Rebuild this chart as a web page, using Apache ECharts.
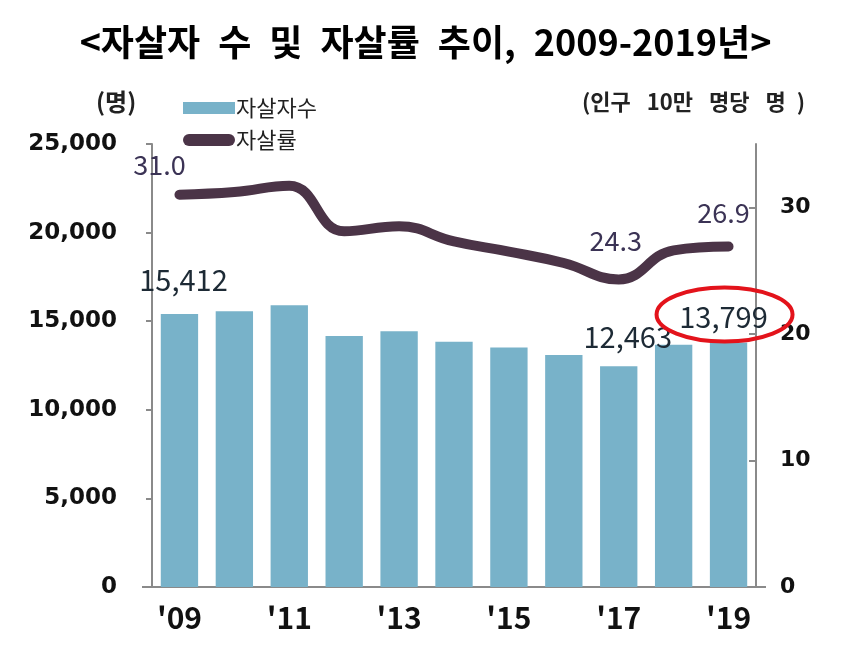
<!DOCTYPE html>
<html>
<head>
<meta charset="utf-8">
<script src="https://cdn.jsdelivr.net/npm/echarts@6/dist/echarts.min.js"></script>
<style>
  html, body { margin: 0; padding: 0; background: #fff; }
  #chart { width: 851px; height: 666px; }
</style>
</head>
<body>
<div id="chart"></div>
<script>
const years = ["'09", "'10", "'11", "'12", "'13", "'14", "'15", "'16", "'17", "'18", "'19"]
const suicides = [15412, 15566, 15906, 14160, 14427, 13836, 13513, 13092, 12463, 13670, 13799]
const rates = [31.0, 31.2, 31.7, 28.1, 28.5, 27.3, 26.5, 25.6, 24.3, 26.6, 26.9]
const countTicks = [0, 5000, 10000, 15000, 20000, 25000]
const rateTicks = [0, 10, 20, 30]
const countLabelIdx = [0, 8, 10]
const rateLabelIdx = [0, 8, 10]

const FONT = '"Noto Sans CJK KR", "Noto Sans", sans-serif'
const NUMFONT = '"DejaVu Sans", sans-serif'
const SP = '\u2002'
const fmt = v => v.toLocaleString('en-US')

const barOffsets = { 0: [4, -5], 8: [9, -1], 10: [-5, 3] }
const rateOffsets = { 0: [-20, 2], 8: [-3, -7], 10: [-5, -2] }

const barData = suicides.map((v, i) => ({
  value: v,
  label: countLabelIdx.includes(i) ? { show: true, offset: barOffsets[i] } : { show: false }
}))
const lineData = rates.map((v, i) => ({
  value: v,
  label: rateLabelIdx.includes(i) ? { show: true, offset: rateOffsets[i] } : { show: false }
}))

const GRID = { left: 152, right: 95, top: 144, bottom: 79 }

const axisNames = [
  { type: 'text', left: 96, top: 90, style: { text: '(명)', fill: '#222', font: 'bold 24px ' + FONT } },
  { type: 'text', left: 582, top: 91, style: { text: '(인구' + SP + ' 10만' + SP + ' 명당' + SP + ' 명' + SP + ')', fill: '#222', font: 'bold 22px ' + FONT } }
]

const chart = echarts.init(document.getElementById('chart'))
chart.setOption({
  animation: false,
  textStyle: { fontFamily: FONT },
  title: {
    text: '<자살자' + SP + '수' + SP + '및' + SP + '자살률' + SP + '추이,' + SP + '2009-2019년>',
    left: 'center',
    top: 19,
    textStyle: { fontSize: 36, fontWeight: 'bold', color: '#000', fontFamily: FONT }
  },
  legend: {
    orient: 'vertical',
    left: 178,
    top: 92,
    itemWidth: 52,
    itemHeight: 12,
    itemGap: 10,
    textStyle: { fontSize: 22, color: '#222', fontFamily: FONT, padding: [0, 0, 0, -4] },
    data: [
      { name: '자살자수', icon: 'rect' },
      { name: '자살률', icon: 'path://M6,0 H46 A6,6 0 0 1 46,12 H6 A6,6 0 0 1 6,0 Z' }
    ]
  },
  grid: Object.assign({ containLabel: false }, GRID),
  xAxis: {
    type: 'category',
    data: years,
    axisLine: { lineStyle: { color: '#8a8a8a', width: 2 } },
    axisTick: { inside: true, interval: 1, length: 7, lineStyle: { color: '#8a8a8a', width: 2 } },
    axisLabel: { interval: 1, fontSize: 30, fontWeight: 'bold', color: '#111', margin: 16, fontFamily: FONT }
  },
  yAxis: [
    {
      type: 'value',
      min: 0,
      max: 25000,
      interval: 5000,
      axisLine: { show: true, lineStyle: { color: '#8a8a8a', width: 2 } },
      axisTick: { show: true, length: 6, lineStyle: { color: '#8a8a8a', width: 2 } },
      splitLine: { show: false },
      axisLabel: {
        customValues: countTicks,
        formatter: v => fmt(v),
        fontSize: 23, fontWeight: 'bold', color: '#111', margin: 35, fontFamily: NUMFONT
      }
    },
    {
      type: 'value',
      min: 0,
      max: 35,
      interval: 10,
      axisLine: { show: true, lineStyle: { color: '#8a8a8a', width: 2 } },
      axisTick: { show: true, inside: true, length: 7, customValues: rateTicks, lineStyle: { color: '#8a8a8a', width: 2 } },
      splitLine: { show: false },
      axisLabel: {
        customValues: rateTicks,
        fontSize: 22, fontWeight: 'bold', color: '#111', margin: 24, fontFamily: NUMFONT
      }
    }
  ],
  graphic: axisNames,
  series: [
    {
      name: '자살자수',
      type: 'bar',
      data: barData,
      barWidth: '68%',
      itemStyle: { color: '#78b2c9' },
      label: {
        position: 'top',
        distance: 14,
        formatter: p => fmt(p.value),
        fontSize: 29,
        color: '#1d2a35',
        fontFamily: FONT
      },
      z: 2
    },
    {
      name: '자살률',
      type: 'line',
      yAxisIndex: 1,
      data: lineData,
      smooth: 0.45,
      symbol: 'circle',
      symbolSize: 0.1,
      showSymbol: true,
      lineStyle: { color: '#4b3447', width: 10, cap: 'round', join: 'round' },
      itemStyle: { color: '#4b3447' },
      label: {
        position: 'top',
        distance: 18,
        formatter: p => p.value.toFixed(1),
        fontSize: 27,
        color: '#3b3355',
        fontFamily: FONT
      },
      z: 3
    }
  ]
})

// annotations anchored through the axes: x-axis overhang and the red ellipse
const last = suicides.length - 1
const pt = chart.convertToPixel({ xAxisIndex: 0, yAxisIndex: 0 }, [years[last], suicides[last]])
const baseY = chart.convertToPixel({ yAxisIndex: 0 }, 0)
chart.setOption({
  graphic: axisNames.concat([
    {
      type: 'line',
      shape: { x1: GRID.left - 10, y1: baseY, x2: 851 - GRID.right + 10, y2: baseY },
      style: { stroke: '#8a8a8a', lineWidth: 2 },
      z: 1
    },
    {
      type: 'ellipse',
      shape: { cx: pt[0] - 4, cy: pt[1] - 28, rx: 68, ry: 27 },
      style: { fill: 'none', stroke: '#e3131b', lineWidth: 4 },
      z: 10
    }
  ])
})
</script>
</body>
</html>
